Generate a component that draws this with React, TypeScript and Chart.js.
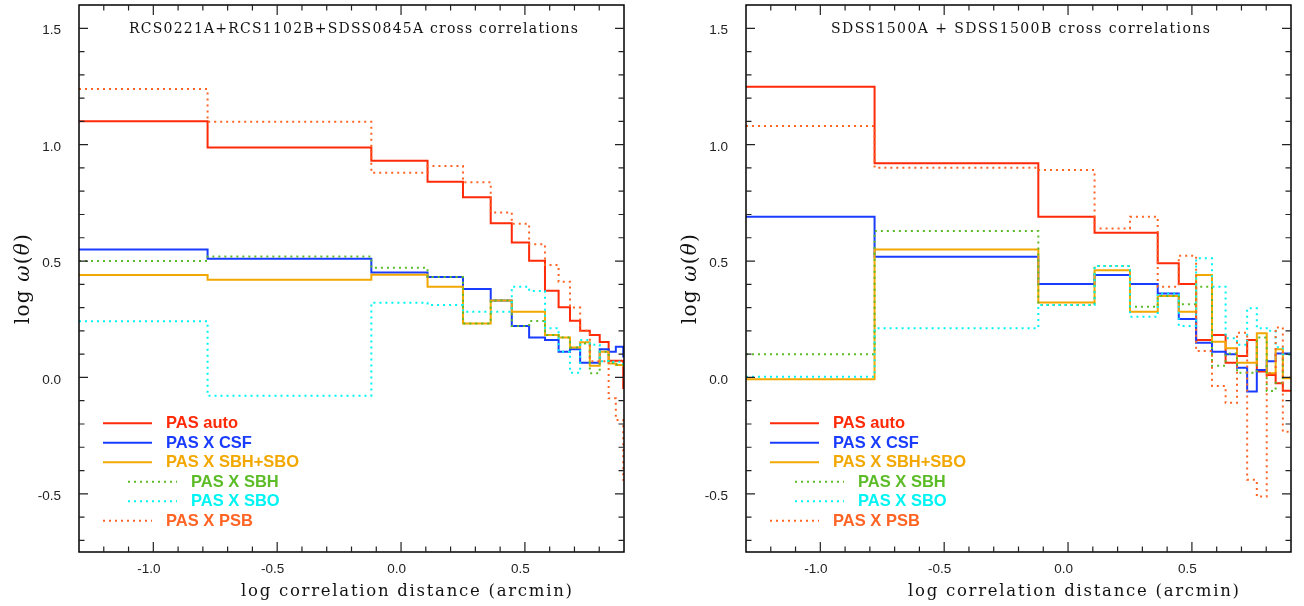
import React, { useEffect, useRef } from "react";
import { Chart, registerables } from "chart.js";

Chart.register(...registerables);

// log10 of the separation-bin edges (arcmin), shared by both fields
const binEdges = [
  -1.3, -0.781, -0.12, 0.107, 0.25, 0.362, 0.447, 0.517, 0.581, 0.636,
  0.682, 0.723, 0.762, 0.802, 0.838, 0.867, 0.897, 0.9,
];

const xTickValues = [-1.0, -0.5, 0.0, 0.5];
const yTickValues = [-0.5, 0.0, 0.5, 1.0, 1.5];

const seriesNames = ["PAS auto", "PAS X CSF", "PAS X SBH+SBO", "PAS X SBH", "PAS X SBO", "PAS X PSB"];
const seriesColors = ["#ff2a08", "#1a3cff", "#f2a800", "#5cbc28", "#00f4f4", "#ff6424"];
const seriesDotted = [false, false, false, true, true, true];
const seriesIndented = [false, false, false, true, true, false];

// RCS0221A + RCS1102B + SDSS0845A  (log w per bin)
const rcsAuto = [1.101, 0.988, 0.931, 0.841, 0.774, 0.662, 0.58, 0.501, 0.372, 0.301, 0.244, 0.201, 0.182, 0.152, 0.072, 0.072, -0.045];
const rcsCsf = [0.55, 0.51, 0.451, 0.431, 0.38, 0.33, 0.221, 0.171, 0.161, 0.11, 0.121, 0.063, 0.063, 0.121, 0.11, 0.132, 0.09];
const rcsSbhSbo = [0.44, 0.42, 0.441, 0.39, 0.232, 0.33, 0.282, 0.282, 0.182, 0.171, 0.129, 0.151, 0.05, 0.11, 0.06, 0.053, 0.05];
const rcsSbh = [0.5, 0.52, 0.471, 0.431, 0.232, 0.33, 0.221, 0.242, 0.182, 0.171, 0.129, 0.146, 0.018, 0.11, 0.063, 0.055, 0.05];
const rcsSbo = [0.241, -0.079, 0.321, 0.311, 0.282, 0.282, 0.39, 0.371, 0.211, 0.11, 0.02, 0.161, 0.14, 0.07, 0.067, 0.067, 0.06];
const rcsPsb = [1.239, 1.098, 0.879, 0.908, 0.839, 0.709, 0.66, 0.572, 0.483, 0.411, 0.3, 0.2, 0.07, 0.07, -0.09, -0.183, -0.44];

// SDSS1500A + SDSS1500B  (log w per bin)
const sdssAuto = [1.249, 0.92, 0.69, 0.622, 0.622, 0.49, 0.401, 0.161, 0.182, 0.063, 0.092, 0.161, 0.025, 0.01, -0.025, -0.057, -0.057];
const sdssCsf = [0.69, 0.518, 0.401, 0.44, 0.401, 0.361, 0.251, 0.149, 0.11, 0.1, 0.042, -0.061, 0.032, 0.07, 0.103, 0.103, 0.1];
const sdssSbhSbo = [-0.008, 0.55, 0.322, 0.46, 0.282, 0.35, 0.282, 0.44, 0.153, 0.125, 0.063, 0.063, 0.19, 0.018, 0.121, -0.004, 0.0];
const sdssSbh = [0.1, 0.629, 0.311, 0.479, 0.304, 0.35, 0.314, 0.39, 0.05, 0.103, 0.02, 0.02, 0.171, -0.058, -0.023, 0.1, 0.1];
const sdssSbo = [0.003, 0.211, 0.311, 0.479, 0.261, 0.361, 0.221, 0.512, 0.39, 0.168, 0.14, 0.297, 0.211, 0.2, 0.13, 0.1, 0.1];
const sdssPsb = [1.08, 0.901, 0.891, 0.64, 0.69, 0.39, 0.523, 0.113, -0.037, -0.109, 0.192, -0.44, -0.512, 0.018, 0.215, -0.233, -0.233];

const X_MIN = -1.3;
const X_MAX = 0.9;
const Y_MIN = -0.75;
const Y_MAX = 1.6;

const CANVAS_W = 652;
const CANVAS_H = 606;

type PanelSpec = {
  title: string;
  titleWidth: number;
  series: number[][];
  padLeft: number;
  padRight: number;
};

const panels: PanelSpec[] = [
  {
    title: "RCS0221A+RCS1102B+SDSS0845A cross correlations",
    titleWidth: 449,
    series: [rcsAuto, rcsCsf, rcsSbhSbo, rcsSbh, rcsSbo, rcsPsb],
    padLeft: 79,
    padRight: 28,
  },
  {
    title: "SDSS1500A + SDSS1500B cross correlations",
    titleWidth: 379,
    series: [sdssAuto, sdssCsf, sdssSbhSbo, sdssSbh, sdssSbo, sdssPsb],
    padLeft: 94,
    padRight: 13,
  },
];

// histogram-style points: one at every left bin edge, plus the closing edge
function stepPoints(values: number[]) {
  const pts = values.map((v, i) => ({ x: binEdges[i], y: v }));
  pts.push({ x: binEdges[values.length], y: values[values.length - 1] });
  return pts;
}

function drawSpaced(
  ctx: CanvasRenderingContext2D,
  text: string,
  x: number,
  y: number,
  width: number,
  font: string,
  color: string
) {
  ctx.save();
  ctx.font = font;
  (ctx as any).letterSpacing = "0px";
  const natural = ctx.measureText(text).width;
  const spacing = (width - natural) / Math.max(1, text.length - 1);
  (ctx as any).letterSpacing = `${spacing}px`;
  ctx.fillStyle = color;
  ctx.textAlign = "left";
  ctx.textBaseline = "middle";
  ctx.fillText(text, x, y);
  ctx.restore();
}

const SERIF = '"DejaVu Serif", "Liberation Serif", serif';
const SANS = '"Liberation Sans", Arial, sans-serif';

function makeDecor(spec: PanelSpec) {
  return {
    id: "panelDecor",
    afterDatasetsDraw(chart: Chart) {
      const ctx = chart.ctx;
      const { left, right, top, bottom } = chart.chartArea;
      const xs = chart.scales.x;
      const ys = chart.scales.y;

      ctx.save();
      // frame
      ctx.strokeStyle = "#000";
      ctx.lineWidth = 1.5;
      ctx.strokeRect(left, top, right - left, bottom - top);

      // inward ticks on all four sides
      ctx.lineWidth = 1.2;
      ctx.strokeStyle = "#222";
      for (let k = -12; k <= 8; k++) {
        const px = xs.getPixelForValue(k / 10);
        const len = k % 5 === 0 ? 10 : 5.5;
        ctx.beginPath();
        ctx.moveTo(px, bottom);
        ctx.lineTo(px, bottom - len);
        ctx.moveTo(px, top);
        ctx.lineTo(px, top + len);
        ctx.stroke();
      }
      for (let k = -7; k <= 15; k++) {
        const py = ys.getPixelForValue(k / 10);
        const len = k % 5 === 0 ? 9 : 5.5;
        ctx.beginPath();
        ctx.moveTo(left, py);
        ctx.lineTo(left + len, py);
        ctx.moveTo(right, py);
        ctx.lineTo(right - len, py);
        ctx.stroke();
      }

      // tick labels
      ctx.fillStyle = "#222";
      ctx.font = `13.5px ${SANS}`;
      ctx.textBaseline = "middle";
      ctx.textAlign = "right";
      yTickValues.forEach((v) => {
        ctx.fillText(v.toFixed(1), left - 18, ys.getPixelForValue(v) + 2.5);
      });
      ctx.textAlign = "center";
      xTickValues.forEach((v) => {
        ctx.fillText(v.toFixed(1), xs.getPixelForValue(v) - 4.5, 569.5);
      });

      // panel title
      const cx = (left + right) / 2 + 2;
      drawSpaced(ctx, spec.title, cx - spec.titleWidth / 2, 29, spec.titleWidth, `14px ${SERIF}`, "#111");

      // x-axis title
      drawSpaced(ctx, "log correlation distance (arcmin)", left + 162, 592, 331, `16.5px ${SERIF}`, "#111");

      // y-axis title: log ω(θ)
      ctx.save();
      ctx.translate(left - 55, (top + bottom) / 2);
      ctx.rotate(-Math.PI / 2);
      ctx.fillStyle = "#111";
      ctx.textBaseline = "middle";
      ctx.textAlign = "left";
      const parts: [string, boolean][] = [
        ["log ", false],
        ["\u03c9", true],
        ["(", false],
        ["\u03b8", true],
        [")", false],
      ];
      const upright = `20px ${SERIF}`;
      const slanted = `italic 20px ${SERIF}`;
      const gap = 1.2;
      let total = 0;
      const widths = parts.map(([t, it]) => {
        ctx.font = it ? slanted : upright;
        (ctx as any).letterSpacing = "0px";
        const w = ctx.measureText(t).width + gap * t.length;
        total += w;
        return w;
      });
      let pos = -total / 2;
      parts.forEach(([t, it], i) => {
        ctx.font = it ? slanted : upright;
        (ctx as any).letterSpacing = `${gap}px`;
        ctx.fillText(t, pos, 0);
        pos += widths[i];
      });
      ctx.restore();

      // legend
      seriesNames.forEach((name, i) => {
        const y = 423.3 + i * 19.5;
        const shift = seriesIndented[i] ? 25 : 0;
        ctx.beginPath();
        ctx.strokeStyle = seriesColors[i];
        ctx.lineWidth = 2;
        ctx.setLineDash(seriesDotted[i] ? [2, 4] : []);
        ctx.moveTo(left + 24 + shift, y);
        ctx.lineTo(left + 73 + shift, y);
        ctx.stroke();
        ctx.setLineDash([]);
        ctx.fillStyle = seriesColors[i];
        ctx.font = `bold 16.5px ${SANS}`;
        ctx.textAlign = "left";
        ctx.textBaseline = "middle";
        ctx.fillText(name, left + 87 + shift, y + 0.5);
      });

      ctx.restore();
    },
  };
}

function Panel({ spec, offset }: { spec: PanelSpec; offset: number }) {
  const ref = useRef<HTMLCanvasElement | null>(null);

  useEffect(() => {
    if (!ref.current) return;
    const datasets = spec.series.map((vals, i) => ({
      label: seriesNames[i],
      data: stepPoints(vals),
      borderColor: seriesColors[i],
      backgroundColor: seriesColors[i],
      borderWidth: 2,
      borderDash: seriesDotted[i] ? [2, 4] : [],
      borderCapStyle: "butt" as const,
      pointRadius: 0,
      stepped: true,
      fill: false,
      clip: 0,
      order: seriesNames.length - i,
    }));
    const chart = new Chart(ref.current, {
      type: "line",
      data: { datasets },
      options: {
        animation: false,
        responsive: false,
        maintainAspectRatio: false,
        layout: {
          padding: { left: spec.padLeft, right: spec.padRight, top: 5, bottom: 54 },
        },
        scales: {
          x: { type: "linear", min: X_MIN, max: X_MAX, display: false },
          y: { type: "linear", min: Y_MIN, max: Y_MAX, display: false },
        },
        plugins: {
          legend: { display: false },
          tooltip: { enabled: false },
        },
      },
      plugins: [makeDecor(spec)],
    });
    return () => chart.destroy();
  }, [spec]);

  return (
    <canvas
      ref={ref}
      width={CANVAS_W}
      height={CANVAS_H}
      style={{
        position: "absolute",
        left: offset,
        top: 0,
        width: CANVAS_W,
        height: CANVAS_H,
      }}
    />
  );
}

export default function App() {
  return (
    <div
      style={{
        position: "absolute",
        left: 0,
        top: 0,
        width: 1304,
        height: 606,
        background: "#fff",
        overflow: "hidden",
      }}
    >
      <Panel spec={panels[0]} offset={0} />
      <Panel spec={panels[1]} offset={652} />
    </div>
  );
}
